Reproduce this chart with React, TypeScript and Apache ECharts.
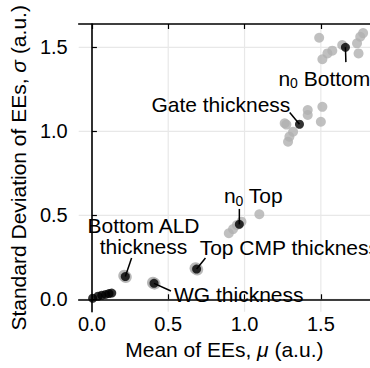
import React, { useEffect, useRef } from "react";
import * as echarts from "echarts";

// ---- data ----
const grayPoints: number[][] = [
  [0.897, 0.393], [0.925, 0.418], [0.95, 0.442], [0.98, 0.462], [1.097, 0.506],
  [1.263, 1.048], [1.274, 1.04], [1.285, 0.938], [1.294, 0.968], [1.318, 0.998],
  [1.414, 1.127], [1.414, 1.097], [1.51, 1.146], [1.5, 1.057],
  [1.489, 1.557], [1.51, 1.429], [1.543, 1.464], [1.575, 1.48], [1.64, 1.514],
  [1.737, 1.524], [1.758, 1.563], [1.747, 1.464], [1.777, 1.585],
];
const haloPoints: number[][] = [
  [0.212, 0.14], [0.222, 0.132],
  [0.4, 0.098], [0.41, 0.093],
  [0.679, 0.185], [0.69, 0.177],
];
const blackPoints: number[][] = [
  [0.005, 0.006], [0.04, 0.018], [0.065, 0.024], [0.09, 0.029], [0.112, 0.034], [0.13, 0.037],
  [0.219, 0.135], [0.407, 0.095], [0.686, 0.18], [0.966, 0.446], [1.36, 1.042], [1.661, 1.5],
];
// annotations: point, line end, text anchor (all in data units)
const annotationTexts = [
  "Bottom ALD\nthickness",
  "WG thickness",
  "Top CMP thickness",
  "{t|n}{s|0}{t| Top}",
  "Gate thickness",
  "{t|n}{s|0}{t| Bottom}",
];
const annotationPoints: number[][] = [
  [0.219, 0.135], [0.407, 0.095], [0.686, 0.18], [0.966, 0.446], [1.36, 1.042], [1.661, 1.5],
];
const annotationLineEnds: number[][] = [
  [0.26, 0.246], [0.518, 0.049], [0.744, 0.246], [0.966, 0.538], [1.296, 1.112], [1.664, 1.412],
];
const annotationTextPos: number[][] = [
  [0.338, 0.374], [0.538, 0.026], [0.706, 0.311], [0.865, 0.615], [1.3, 1.157], [1.222, 1.317],
];
const annotationAlign = ["center", "left", "left", "left", "right", "left"];

const tickValues = [0, 0.5, 1.0, 1.5];
const X_MIN = -0.0865, X_MAX = 1.822;
const Y_MIN = -0.074, Y_MAX = 1.639;

const FONT = "Liberation Sans";
const FS = 21;

export default function App() {
  const ref = useRef<HTMLDivElement>(null);
  useEffect(() => {
    if (!ref.current) return;
    const chart = echarts.init(ref.current, null, { renderer: "svg" });
    const axisCommon = {
      type: "value",
      axisLine: { show: true, lineStyle: { color: "#000", width: 1.6 } },
      axisTick: { show: true, inside: true, length: 5, customValues: tickValues, lineStyle: { color: "#000", width: 1.2 } },
      splitLine: { show: false },
    };
    const annData = annotationPoints.map((p, i) => [
      p[0], p[1], annotationLineEnds[i][0], annotationLineEnds[i][1], annotationTextPos[i][0], annotationTextPos[i][1],
    ]);
    const gridData = [
      ...tickValues.map((v) => [0, v]),
      ...tickValues.map((v) => [1, v]),
    ];
    const option: any = {
      animation: false,
      grid: { left: 74.3, top: 24, right: 0, bottom: 56.3 },
      xAxis: [
        {
          ...axisCommon,
          min: X_MIN, max: X_MAX, position: "bottom",
          axisLabel: {
            customValues: tickValues, color: "#000", fontSize: 20, fontFamily: FONT, margin: 2,
            formatter: (v: number) => v.toFixed(1),
          },
          name: "Mean of EEs, {i|μ} (a.u.)",
          nameLocation: "middle", nameGap: 25,
          nameTextStyle: { color: "#000", fontSize: FS, fontFamily: FONT, verticalAlign: "top",
            rich: { i: { fontStyle: "italic", fontSize: FS, fontFamily: FONT, color: "#000" } } },
        },
        {
          ...axisCommon,
          min: X_MIN, max: X_MAX, position: "top",
          axisLabel: { show: false },
        },
      ],
      yAxis: [
        {
          ...axisCommon,
          min: Y_MIN, max: Y_MAX,
          axisLabel: {
            customValues: tickValues, color: "#000", fontSize: 20, fontFamily: FONT, margin: 11,
            formatter: (v: number) => v.toFixed(1),
          },
          name: "Standard Deviation of EEs, {i|σ} (a.u.)",
          nameLocation: "middle", nameGap: 42,
          nameTextStyle: { color: "#000", fontSize: FS, fontFamily: FONT,
            rich: { i: { fontStyle: "italic", fontSize: FS, fontFamily: FONT, color: "#000" } } },
        },
      ],
      series: [
        {
          type: "custom", z: 0, silent: true, data: gridData, clip: false,
          renderItem: (params: any, api: any) => {
            const dir = api.value(0);
            const v = api.value(1);
            const a = dir === 0 ? api.coord([v, Y_MIN]) : api.coord([X_MIN, v]);
            const b = dir === 0 ? api.coord([v, Y_MAX]) : api.coord([X_MAX, v]);
            return {
              type: "line",
              shape: { x1: a[0], y1: a[1], x2: b[0], y2: b[1] },
              style: { stroke: "#e8e8e8", lineWidth: 1.2 },
            };
          },
        },
        { type: "scatter", data: grayPoints, symbolSize: 10, itemStyle: { color: "#b0b0b0" }, z: 2, silent: true },
        { type: "scatter", data: haloPoints, symbolSize: 12, itemStyle: { color: "#a8a8a8" }, z: 3, silent: true },
        { type: "scatter", data: blackPoints, symbolSize: 9, itemStyle: { color: "#000" }, z: 4, silent: true },
        {
          type: "custom", z: 5, silent: true, data: annData,
          renderItem: (params: any, api: any) => {
            const i = params.dataIndex;
            const p = api.coord([api.value(0), api.value(1)]);
            const e = api.coord([api.value(2), api.value(3)]);
            const t = api.coord([api.value(4), api.value(5)]);
            return {
              type: "group",
              children: [
                { type: "line", shape: { x1: p[0], y1: p[1], x2: e[0], y2: e[1] }, style: { stroke: "#000", lineWidth: 1.5 } },
                {
                  type: "text", x: t[0], y: t[1],
                  style: {
                    text: annotationTexts[i], align: annotationAlign[i], verticalAlign: "middle",
                    fill: "#000", fontSize: FS, fontFamily: FONT, lineHeight: 21,
                    rich: {
                      t: { fontSize: FS, fontFamily: FONT, fill: "#000", lineHeight: 24 },
                      s: { fontSize: 14, fontFamily: FONT, fill: "#000", lineHeight: 24, padding: [10, 0, 0, 0] },
                    },
                  },
                },
              ],
            };
          },
        },
      ],
    };
    chart.setOption(option);
    return () => chart.dispose();
  }, []);
  return <div ref={ref} style={{ position: "fixed", left: 0, top: 0, width: 370, height: 368, background: "#fff" }} />;
}
